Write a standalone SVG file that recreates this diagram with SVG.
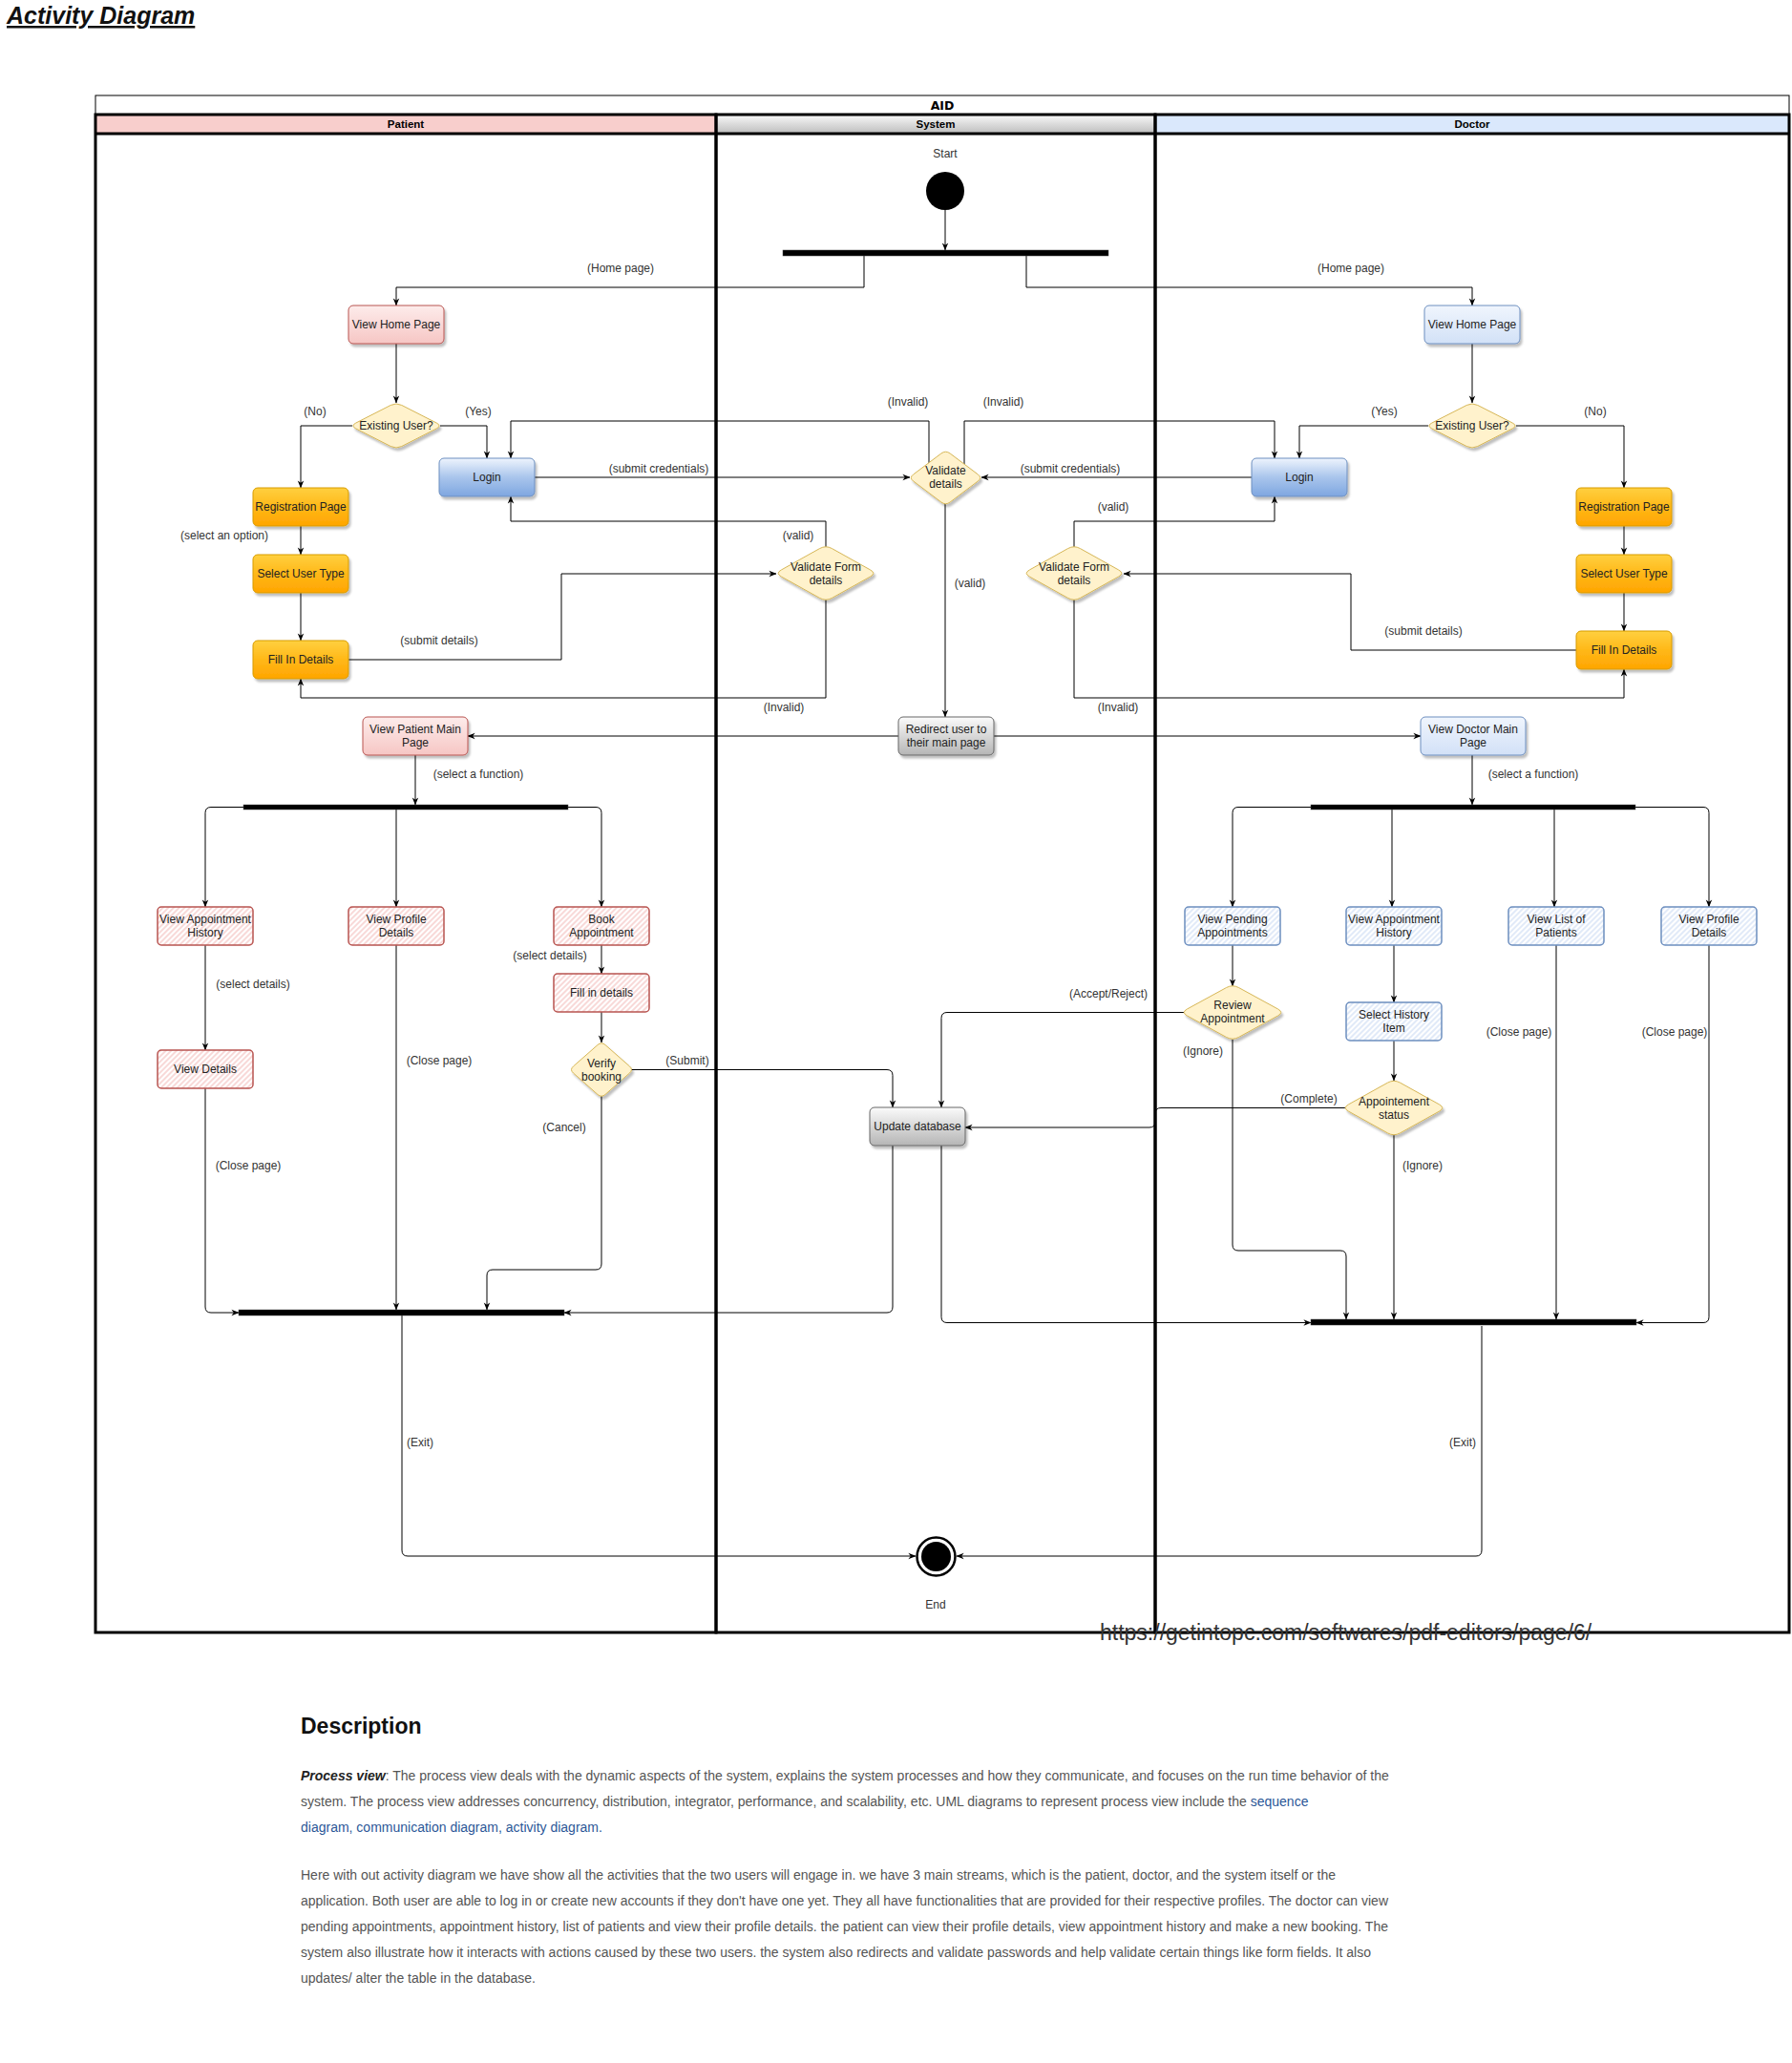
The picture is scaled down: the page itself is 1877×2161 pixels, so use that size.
<svg xmlns="http://www.w3.org/2000/svg" xmlns:xlink="http://www.w3.org/1999/xlink" width="1877" height="2161" viewBox="0 0 1877 2161">
<style>
.lbl{font-family:"Liberation Sans",Arial,sans-serif;font-size:12px;fill:#333;text-anchor:middle}
.nt{font-family:"Liberation Sans",Arial,sans-serif;font-size:12px;fill:#222;text-anchor:middle}
.hd{font-family:"Liberation Sans",Arial,sans-serif;font-size:11.5px;font-weight:bold;fill:#000;text-anchor:middle}
.e{fill:none;stroke:#000;stroke-width:1;marker-end:url(#arr)}
.ln{fill:none;stroke:#000;stroke-width:3}
.pink{fill:url(#gPink);stroke:#b85450;stroke-width:1}
.bluel{fill:url(#gBlueL);stroke:#6c8ebf;stroke-width:1}
.login{fill:url(#gLogin);stroke:#6c8ebf;stroke-width:1}
.orange{fill:url(#gOrange);stroke:#d79b00;stroke-width:1}
.gray{fill:url(#gGray);stroke:#666;stroke-width:1}
.hr{fill:url(#hatchR);stroke:#b85450;stroke-width:1.5}
.hb{fill:url(#hatchB);stroke:#6c8ebf;stroke-width:1.5}
.dm{fill:#fff2cc;stroke:#d6b656;stroke-width:1}
.bar{fill:#000;stroke:#444;stroke-width:0.5}
.body{font-family:"Liberation Sans",Arial,sans-serif;font-size:14px;fill:#555}
.link{fill:#2b5797}
</style>
<defs>
<marker id="arr" viewBox="0 0 10 10" refX="9.5" refY="5" markerWidth="8" markerHeight="8" markerUnits="userSpaceOnUse" orient="auto"><path d="M0,1 L10,5 L0,9 L3,5 Z" fill="#000"/></marker>
<filter id="sh" x="-20%" y="-20%" width="150%" height="170%"><feDropShadow dx="2" dy="3" stdDeviation="1.2" flood-color="#000" flood-opacity="0.25"/></filter>
<linearGradient id="gPink" x1="0" y1="0" x2="0" y2="1"><stop offset="0" stop-color="#fdeceb"/><stop offset="1" stop-color="#f6c6c4"/></linearGradient>
<linearGradient id="gBlueL" x1="0" y1="0" x2="0" y2="1"><stop offset="0" stop-color="#f0f5fd"/><stop offset="1" stop-color="#d2e1f7"/></linearGradient>
<linearGradient id="gLogin" x1="0" y1="0" x2="0" y2="1"><stop offset="0" stop-color="#eef4fd"/><stop offset="0.5" stop-color="#a9c5ec"/><stop offset="1" stop-color="#7ea6e0"/></linearGradient>
<linearGradient id="gOrange" x1="0" y1="0" x2="0" y2="1"><stop offset="0" stop-color="#ffd040"/><stop offset="0.5" stop-color="#ffb818"/><stop offset="1" stop-color="#ffa500"/></linearGradient>
<linearGradient id="gGray" x1="0" y1="0" x2="0" y2="1"><stop offset="0" stop-color="#fbfbfb"/><stop offset="1" stop-color="#b5b5b5"/></linearGradient>
<linearGradient id="gSys" x1="0" y1="0" x2="0" y2="1"><stop offset="0" stop-color="#f9f9f9"/><stop offset="1" stop-color="#bdbdbd"/></linearGradient>
<pattern id="hatchR" width="4" height="4" patternUnits="userSpaceOnUse" patternTransform="rotate(45)"><rect width="4" height="4" fill="#fff"/><line x1="1" y1="0" x2="1" y2="4" stroke="#f2b3b1" stroke-width="1"/></pattern>
<pattern id="hatchB" width="4" height="4" patternUnits="userSpaceOnUse" patternTransform="rotate(45)"><rect width="4" height="4" fill="#fff"/><line x1="1" y1="0" x2="1" y2="4" stroke="#c3d6f2" stroke-width="1"/></pattern>
<path id="dia" vector-effect="non-scaling-stroke" d="M-6,-44 Q0,-50 6,-44 L44,-6 Q50,0 44,6 L6,44 Q0,50 -6,44 L-44,6 Q-50,0 -44,-6 Z"/>
</defs>
<rect width="1877" height="2161" fill="#fff"/>

<text x="7" y="25" font-family="Liberation Sans,Arial,sans-serif" font-size="25" font-weight="bold" font-style="italic" text-decoration="underline" fill="#111">Activity Diagram</text>

<g id="pool">
<rect x="100" y="100" width="1774" height="20" fill="#fff" stroke="#000" stroke-width="1"/>
<text x="987" y="115" font-family="DejaVu Sans,Verdana,sans-serif" font-size="12.5" font-weight="bold" text-anchor="middle" fill="#000">AID</text>
<rect x="100" y="120" width="650" height="20" fill="#f8cecc"/>
<rect x="750" y="120" width="460" height="20" fill="url(#gSys)"/>
<rect x="1210" y="120" width="664" height="20" fill="#dae8fc"/>
<rect class="ln" x="100" y="120" width="650" height="1590"/>
<rect class="ln" x="750" y="120" width="460" height="1590"/>
<rect class="ln" x="1210" y="120" width="664" height="1590"/>
<line class="ln" x1="100" y1="140" x2="1874" y2="140"/>
<text class="hd" x="425" y="134">Patient</text>
<text class="hd" x="980" y="134">System</text>
<text class="hd" x="1542" y="134">Doctor</text>
</g>

<g id="connectors">
<path class="e" d="M990,220 V262"/>
<path class="e" d="M905,268 V301 H415 V320"/>
<path class="e" d="M1075,268 V301 H1542 V320"/>
<path class="e" d="M415,360 V422"/>
<path class="e" d="M1542,360 V422"/>
<path class="e" d="M369,446 H315 V511"/>
<path class="e" d="M461,446 H510 V480"/>
<path class="e" d="M973,486 V441 H535 V480"/>
<path class="e" d="M560,500 H953"/>
<path class="e" d="M1010,486 V441 H1335 V480"/>
<path class="e" d="M1496,446 H1361 V480"/>
<path class="e" d="M1588,446 H1701 V511"/>
<path class="e" d="M1311,500 H1028"/>
<path class="e" d="M315,551 V581"/>
<path class="e" d="M315,621 V671"/>
<path class="e" d="M365,691 H588 V601 H813"/>
<path class="e" d="M865,573 V546 H535 V520"/>
<path class="e" d="M865,628 V731 H315 V711"/>
<path class="e" d="M990,528 V751"/>
<path class="e" d="M1701,551 V581"/>
<path class="e" d="M1701,621 V661"/>
<path class="e" d="M1651,681 H1415 V601 H1177"/>
<path class="e" d="M1125,573 V546 H1335 V520"/>
<path class="e" d="M1125,628 V731 H1701 V701"/>
<path class="e" d="M941,771 H490"/>
<path class="e" d="M1041,771 H1488"/>
<path class="e" d="M435,791 V843"/>
<path class="e" d="M255,845.5 H221 Q215,845.5 215,851.5 V950"/>
<path class="e" d="M415,848 V950"/>
<path class="e" d="M595,845.5 H624 Q630,845.5 630,851.5 V950"/>
<path class="e" d="M215,990 V1100"/>
<path class="e" d="M630,990 V1020"/>
<path class="e" d="M630,1060 V1092"/>
<path class="e" d="M661,1120.5 H929 Q935,1120.5 935,1126.5 V1160"/>
<path class="e" d="M630,1148 V1324 Q630,1330 624,1330 H516 Q510,1330 510,1336 V1372"/>
<path class="e" d="M415,990 V1372"/>
<path class="e" d="M215,1140 V1369 Q215,1375 221,1375 H250"/>
<path class="e" d="M935,1200 V1369 Q935,1375 929,1375 H591"/>
<path class="e" d="M421,1378 V1624 Q421,1630 427,1630 H959"/>
<path class="e" d="M1542,791 V843"/>
<path class="e" d="M1373,845.5 H1297 Q1291,845.5 1291,851.5 V950"/>
<path class="e" d="M1458,848 V950"/>
<path class="e" d="M1628,848 V950"/>
<path class="e" d="M1713,845.5 H1784 Q1790,845.5 1790,851.5 V950"/>
<path class="e" d="M1291,990 V1033"/>
<path class="e" d="M1240,1060.5 H992 Q986,1060.5 986,1066.5 V1160"/>
<path class="e" d="M1291,1089 V1304 Q1291,1310 1297,1310 H1404 Q1410,1310 1410,1316 V1382"/>
<path class="e" d="M1460,990 V1050"/>
<path class="e" d="M1460,1090 V1132"/>
<path class="e" d="M1409,1160.5 H1216 Q1210,1160.5 1210,1166.5 V1175 Q1210,1181 1204,1181 H1011"/>
<path class="e" d="M1460,1189 V1382"/>
<path class="e" d="M1630,990 V1382"/>
<path class="e" d="M1790,990 V1379.5 Q1790,1385.5 1784,1385.5 H1714"/>
<path class="e" d="M986,1200 V1379.5 Q986,1385.5 992,1385.5 H1373"/>
<path class="e" d="M1552,1389 V1624 Q1552,1630 1546,1630 H1002"/>
<text class="lbl" x="650" y="285">(Home page)</text>
<text class="lbl" x="1415" y="285">(Home page)</text>
<text class="lbl" x="330" y="435">(No)</text>
<text class="lbl" x="501" y="435">(Yes)</text>
<text class="lbl" x="1450" y="435">(Yes)</text>
<text class="lbl" x="1671" y="435">(No)</text>
<text class="lbl" x="951" y="425">(Invalid)</text>
<text class="lbl" x="1051" y="425">(Invalid)</text>
<text class="lbl" x="690" y="495">(submit credentials)</text>
<text class="lbl" x="1121" y="495">(submit credentials)</text>
<text class="lbl" x="836" y="565">(valid)</text>
<text class="lbl" x="1166" y="535">(valid)</text>
<text class="lbl" x="1016" y="615">(valid)</text>
<text class="lbl" x="235" y="565">(select an option)</text>
<text class="lbl" x="460" y="675">(submit details)</text>
<text class="lbl" x="1491" y="665">(submit details)</text>
<text class="lbl" x="821" y="745">(Invalid)</text>
<text class="lbl" x="1171" y="745">(Invalid)</text>
<text class="lbl" x="501" y="815">(select a function)</text>
<text class="lbl" x="1606" y="815">(select a function)</text>
<text class="lbl" x="265" y="1035">(select details)</text>
<text class="lbl" x="576" y="1004.5">(select details)</text>
<text class="lbl" x="460" y="1115">(Close page)</text>
<text class="lbl" x="260" y="1225">(Close page)</text>
<text class="lbl" x="720" y="1115">(Submit)</text>
<text class="lbl" x="591" y="1185">(Cancel)</text>
<text class="lbl" x="1161" y="1045">(Accept/Reject)</text>
<text class="lbl" x="1260" y="1105">(Ignore)</text>
<text class="lbl" x="1371" y="1155">(Complete)</text>
<text class="lbl" x="1490" y="1225">(Ignore)</text>
<text class="lbl" x="1591" y="1085">(Close page)</text>
<text class="lbl" x="1754" y="1085">(Close page)</text>
<text class="lbl" x="440" y="1515">(Exit)</text>
<text class="lbl" x="1532" y="1515">(Exit)</text>
</g>

<g id="start"><text class="lbl" x="990" y="165">Start</text><circle cx="990" cy="200" r="20" fill="#000"/></g>
<g id="fork-start"><rect class="bar" x="820" y="262" width="341" height="6"/></g>
<g id="fork-patient"><rect class="bar" x="255" y="843" width="340" height="5"/></g>
<g id="fork-doctor"><rect class="bar" x="1373" y="843" width="340" height="5"/></g>
<g id="join-patient"><rect class="bar" x="250" y="1372" width="341" height="6"/></g>
<g id="join-doctor"><rect class="bar" x="1373" y="1382" width="341" height="6"/></g>
<g id="end"><circle cx="980.5" cy="1630.5" r="20" fill="#fff" stroke="#000" stroke-width="2.5"/><circle cx="980.5" cy="1630.5" r="15.5" fill="#000"/><text class="lbl" x="980" y="1685">End</text></g>

<g id="p-viewhome"><rect class="pink" x="365" y="320" width="100" height="40" rx="5" filter="url(#sh)"/><text class="nt" x="415" y="344">View Home Page</text></g>
<g id="p-existing"><g filter="url(#sh)"><use xlink:href="#dia" class="dm" transform="translate(415,446) scale(0.96,0.49)"/></g><text class="nt" x="415" y="450">Existing User?</text></g>
<g id="p-login"><rect class="login" x="460" y="480" width="100" height="40" rx="5" filter="url(#sh)"/><text class="nt" x="510" y="504">Login</text></g>
<g id="p-reg"><rect class="orange" x="265" y="511" width="100" height="40" rx="5" filter="url(#sh)"/><text class="nt" x="315" y="535">Registration Page</text></g>
<g id="p-usertype"><rect class="orange" x="265" y="581" width="100" height="40" rx="5" filter="url(#sh)"/><text class="nt" x="315" y="605">Select User Type</text></g>
<g id="p-fill"><rect class="orange" x="265" y="671" width="100" height="40" rx="5" filter="url(#sh)"/><text class="nt" x="315" y="695">Fill In Details</text></g>
<g id="p-validform"><g filter="url(#sh)"><use xlink:href="#dia" class="dm" transform="translate(865,600.5) scale(1.06,0.59)"/></g><text class="nt" x="865" y="597.5">Validate Form</text><text class="nt" x="865" y="611.5">details</text></g>
<g id="p-main"><rect class="pink" x="380" y="751" width="110" height="40" rx="5" filter="url(#sh)"/><text class="nt" x="435" y="768">View Patient Main</text><text class="nt" x="435" y="782">Page</text></g>
<g id="p-history"><rect class="hr" x="165" y="950" width="100" height="40" rx="4"/><text class="nt" x="215" y="967">View Appointment</text><text class="nt" x="215" y="981">History</text></g>
<g id="p-profile"><rect class="hr" x="365" y="950" width="100" height="40" rx="4"/><text class="nt" x="415" y="967">View Profile</text><text class="nt" x="415" y="981">Details</text></g>
<g id="p-book"><rect class="hr" x="580" y="950" width="100" height="40" rx="4"/><text class="nt" x="630" y="967">Book</text><text class="nt" x="630" y="981">Appointment</text></g>
<g id="p-viewdetails"><rect class="hr" x="165" y="1100" width="100" height="40" rx="4"/><text class="nt" x="215" y="1124">View Details</text></g>
<g id="p-filldetails"><rect class="hr" x="580" y="1020" width="100" height="40" rx="4"/><text class="nt" x="630" y="1044">Fill in details</text></g>
<g id="p-verify"><g filter="url(#sh)"><use xlink:href="#dia" class="dm" transform="translate(630,1120.5) scale(0.67,0.59)"/></g><text class="nt" x="630" y="1117.5">Verify</text><text class="nt" x="630" y="1131.5">booking</text></g>

<g id="s-validate"><g filter="url(#sh)"><use xlink:href="#dia" class="dm" transform="translate(990.5,500.5) scale(0.77,0.58)"/></g><text class="nt" x="990.5" y="497">Validate</text><text class="nt" x="990.5" y="511">details</text></g>
<g id="s-redirect"><rect class="gray" x="941" y="751" width="100" height="40" rx="5" filter="url(#sh)"/><text class="nt" x="991" y="768">Redirect user to</text><text class="nt" x="991" y="782">their main page</text></g>
<g id="s-update"><rect class="gray" x="911" y="1160" width="100" height="40" rx="5" filter="url(#sh)"/><text class="nt" x="961" y="1184">Update database</text></g>

<g id="d-viewhome"><rect class="bluel" x="1492" y="320" width="100" height="40" rx="5" filter="url(#sh)"/><text class="nt" x="1542" y="344">View Home Page</text></g>
<g id="d-existing"><g filter="url(#sh)"><use xlink:href="#dia" class="dm" transform="translate(1542,446) scale(0.96,0.49)"/></g><text class="nt" x="1542" y="450">Existing User?</text></g>
<g id="d-login"><rect class="login" x="1311" y="480" width="100" height="40" rx="5" filter="url(#sh)"/><text class="nt" x="1361" y="504">Login</text></g>
<g id="d-reg"><rect class="orange" x="1651" y="511" width="100" height="40" rx="5" filter="url(#sh)"/><text class="nt" x="1701" y="535">Registration Page</text></g>
<g id="d-usertype"><rect class="orange" x="1651" y="581" width="100" height="40" rx="5" filter="url(#sh)"/><text class="nt" x="1701" y="605">Select User Type</text></g>
<g id="d-fill"><rect class="orange" x="1651" y="661" width="100" height="40" rx="5" filter="url(#sh)"/><text class="nt" x="1701" y="685">Fill In Details</text></g>
<g id="d-validform"><g filter="url(#sh)"><use xlink:href="#dia" class="dm" transform="translate(1125,600.5) scale(1.06,0.59)"/></g><text class="nt" x="1125" y="597.5">Validate Form</text><text class="nt" x="1125" y="611.5">details</text></g>
<g id="d-main"><rect class="bluel" x="1488" y="751" width="110" height="40" rx="5" filter="url(#sh)"/><text class="nt" x="1543" y="768">View Doctor Main</text><text class="nt" x="1543" y="782">Page</text></g>
<g id="d-pending"><rect class="hb" x="1241" y="950" width="100" height="40" rx="4"/><text class="nt" x="1291" y="967">View Pending</text><text class="nt" x="1291" y="981">Appointments</text></g>
<g id="d-history"><rect class="hb" x="1410" y="950" width="100" height="40" rx="4"/><text class="nt" x="1460" y="967">View Appointment</text><text class="nt" x="1460" y="981">History</text></g>
<g id="d-patients"><rect class="hb" x="1580" y="950" width="100" height="40" rx="4"/><text class="nt" x="1630" y="967">View List of</text><text class="nt" x="1630" y="981">Patients</text></g>
<g id="d-profile"><rect class="hb" x="1740" y="950" width="100" height="40" rx="4"/><text class="nt" x="1790" y="967">View Profile</text><text class="nt" x="1790" y="981">Details</text></g>
<g id="d-review"><g filter="url(#sh)"><use xlink:href="#dia" class="dm" transform="translate(1291,1060.5) scale(1.08,0.59)"/></g><text class="nt" x="1291" y="1057">Review</text><text class="nt" x="1291" y="1071">Appointment</text></g>
<g id="d-selecthist"><rect class="hb" x="1410" y="1050" width="100" height="40" rx="4"/><text class="nt" x="1460" y="1067">Select History</text><text class="nt" x="1460" y="1081">Item</text></g>
<g id="d-status"><g filter="url(#sh)"><use xlink:href="#dia" class="dm" transform="translate(1460,1160.5) scale(1.08,0.6)"/></g><text class="nt" x="1460" y="1157.5">Appointement</text><text class="nt" x="1460" y="1171.5">status</text></g>

<text x="1152" y="1718" font-family="Liberation Sans,Arial,sans-serif" font-size="23" fill="#333">https://getintopc.com/softwares/pdf-editors/page/6/</text>

<g id="description">
<text x="315" y="1816" font-family="Liberation Sans,Arial,sans-serif" font-size="23" font-weight="bold" fill="#111">Description</text>
<text class="body" x="315" y="1865"><tspan font-weight="bold" font-style="italic" fill="#222">Process view</tspan>: The process view deals with the dynamic aspects of the system, explains the system processes and how they communicate, and focuses on the run time behavior of the</text>
<text class="body" x="315" y="1892">system. The process view addresses concurrency, distribution, integrator, performance, and scalability, etc. UML diagrams to represent process view include the <tspan class="link">sequence</tspan></text>
<text class="body link" x="315" y="1919">diagram, communication diagram, activity diagram.</text>
<text class="body" x="315" y="1969" textLength="1084" lengthAdjust="spacing">Here with out activity diagram we have show all the activities that the two users will engage in. we have 3 main streams, which is the patient, doctor, and the system itself or the</text>
<text class="body" x="315" y="1996" textLength="1139" lengthAdjust="spacing">application. Both user are able to log in or create new accounts if they don't have one yet. They all have functionalities that are provided for their respective profiles. The doctor can view</text>
<text class="body" x="315" y="2023" textLength="1139" lengthAdjust="spacing">pending appointments, appointment history, list of patients and view their profile details. the patient can view their profile details, view appointment history and make a new booking. The</text>
<text class="body" x="315" y="2050" textLength="1121" lengthAdjust="spacing">system also illustrate how it interacts with actions caused by these two users. the system also redirects and validate passwords and help validate certain things like form fields. It also</text>
<text class="body" x="315" y="2077">updates/ alter the table in the database.</text>
</g>
</svg>
